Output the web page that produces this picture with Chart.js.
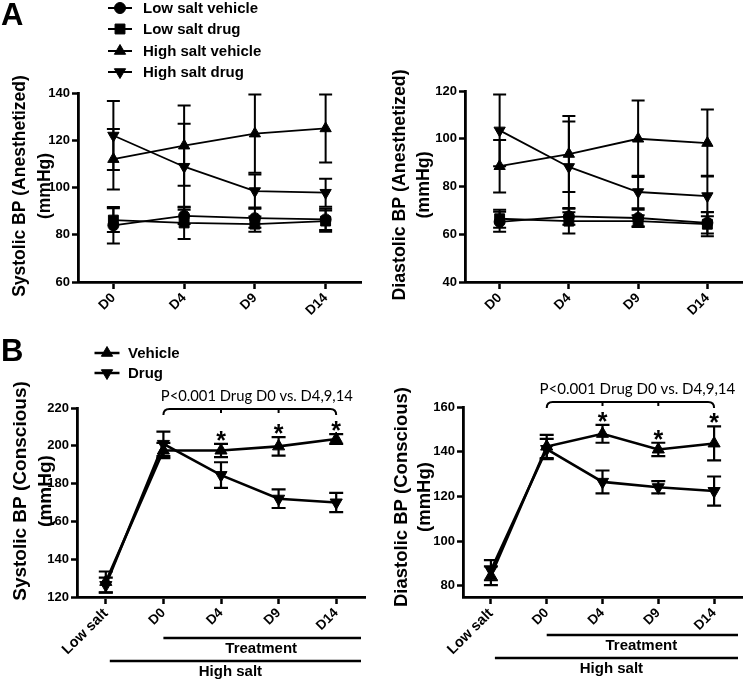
<!DOCTYPE html>
<html><head><meta charset="utf-8">
<script src="https://cdn.jsdelivr.net/npm/chart.js@4.4.1/dist/chart.umd.min.js"></script>
<style>
html,body{margin:0;padding:0;background:#fff;}
#wrap{position:relative;width:750px;height:680px;background:#fff;}
canvas{position:absolute;left:0;top:0;}
</style></head><body>
<div id="wrap">
<canvas id="cA1" width="750" height="680"></canvas>
<canvas id="cA2" width="750" height="680"></canvas>
<canvas id="cB1" width="750" height="680"></canvas>
<canvas id="cB2" width="750" height="680"></canvas>
</div>
<script>
// ---------- DATA ----------
const daysA = ['D0', 'D4', 'D9', 'D14'];
const daysB = ['Low salt', 'D0', 'D4', 'D9', 'D14'];
const seriesNamesA = ['Low salt vehicle', 'Low salt drug', 'High salt vehicle', 'High salt drug'];
const seriesNamesB = ['Vehicle', 'Drug'];

// y tick labels per panel
const yTicksA1 = [60, 80, 100, 120, 140];
const yTicksA2 = [40, 60, 80, 100, 120];
const yTicksB1 = [120, 140, 160, 180, 200, 220];
const yTicksB2 = [80, 100, 120, 140, 160];

// Panel A, systolic (anesthetized)
const sysA_lsVeh     = [84.0, 88.0, 87.0, 86.5];
const sysA_lsVehErr  = [7.7, 3.5, 4.0, 4.5];
const sysA_lsDrug    = [86.2, 85.0, 84.5, 85.8];
const sysA_lsDrugErr = [5.0, 6.8, 3.2, 4.5];
const sysA_hsVeh     = [112.0, 117.7, 122.8, 125.0];
const sysA_hsVehErr  = [12.8, 17.0, 16.6, 14.4];
const sysA_hsDrug    = [122.0, 108.8, 98.5, 97.8];
const sysA_hsDrugErr = [14.6, 18.2, 7.0, 5.9];

// Panel A, diastolic (anesthetized)
const diaA_lsVeh     = [65.2, 67.5, 66.8, 64.8];
const diaA_lsVehErr  = [4.2, 3.5, 3.5, 4.5];
const diaA_lsDrug    = [66.5, 65.5, 65.5, 64.2];
const diaA_lsDrugErr = [3.8, 5.2, 2.5, 5.0];
const diaA_hsVeh     = [88.5, 93.6, 100.0, 98.2];
const diaA_hsVehErr  = [11.0, 15.9, 16.0, 14.0];
const diaA_hsDrug    = [103.5, 88.2, 77.7, 76.0];
const diaA_hsDrugErr = [15.0, 19.0, 6.8, 8.5];

// Panel B, systolic (conscious)
const sysB_veh     = [128.0, 197.5, 197.5, 199.7, 203.6];
const sysB_vehErr  = [5.5, 4.0, 3.5, 4.9, 2.6];
const sysB_drug    = [126.3, 201.0, 184.5, 172.0, 170.0];
const sysB_drugErr = [4.0, 6.5, 6.8, 4.9, 5.1];

// Panel B, diastolic (conscious)
const diaB_veh     = [84.5, 142.3, 148.0, 141.0, 143.7];
const diaB_vehErr  = [4.2, 5.2, 4.0, 3.0, 7.6];
const diaB_drug    = [87.0, 141.2, 126.5, 124.1, 122.4];
const diaB_drugErr = [4.5, 4.5, 5.1, 2.7, 6.5];

// significance marks (vehicle vs drug) for B
const sigB = [false, false, true, true, true];
const pText = 'P<0.001 Drug D0 vs. D4,9,14';

// ---------- DRAWING ----------
const FONT = "'Liberation Sans', Arial, Helvetica, sans-serif";
const STY = {
  circle: {style: 'circle', rot: 0, r: 5.5},
  square: {style: 'rect', rot: 0, r: 7},
  up:     {style: 'triangle', rot: 0, r: 6.5},
  down:   {style: 'triangle', rot: 180, r: 6.5},
  upB:    {style: 'triangle', rot: 0, r: 7},
  downB:  {style: 'triangle', rot: 180, r: 7}
};

function vText(ctx, lines, cx, cy, gap, size) {
  ctx.save();
  ctx.fillStyle = '#000';
  ctx.font = 'bold ' + size + 'px ' + FONT;
  ctx.textAlign = 'center';
  ctx.textBaseline = 'middle';
  lines.forEach((t, i) => {
    ctx.save();
    ctx.translate(cx + i * gap, cy);
    ctx.rotate(-Math.PI / 2);
    ctx.fillText(t, 0, 0);
    ctx.restore();
  });
  ctx.restore();
}

function legendItem(ctx, cx, cy, half, sty, text, tx, size, lw) {
  ctx.save();
  ctx.strokeStyle = '#000'; ctx.fillStyle = '#000';
  ctx.lineWidth = lw;
  ctx.beginPath(); ctx.moveTo(cx - half, cy); ctx.lineTo(cx + half, cy); ctx.stroke();
  ctx.lineWidth = 1;
  Chart.helpers.drawPoint(ctx, {pointStyle: sty.style, rotation: sty.rot, radius: sty.r, borderWidth: 1}, cx, cy);
  ctx.font = 'bold ' + size + 'px ' + FONT;
  ctx.textAlign = 'left'; ctx.textBaseline = 'middle';
  ctx.fillText(text, tx, cy + 1);
  ctx.restore();
}

function build(id, o) {
  const YW = 78, XH = 60;
  const errPlugin = {
    id: 'err_' + id,
    beforeDatasetsDraw(chart) {
      const ctx = chart.ctx, x = chart.scales.x, y = chart.scales.y;
      chart.data.datasets.forEach(ds => {
        ctx.save();
        ctx.strokeStyle = '#000';
        ctx.lineWidth = o.errW;
        ds.data.forEach((v, i) => {
          const e = ds.errors[i];
          const px = x.getPixelForValue(i);
          const t = y.getPixelForValue(v + e), b = y.getPixelForValue(v - e);
          ctx.beginPath();
          ctx.moveTo(px, t); ctx.lineTo(px, b);
          ctx.moveTo(px - o.capW, t); ctx.lineTo(px + o.capW, t);
          ctx.moveTo(px - o.capW, b); ctx.lineTo(px + o.capW, b);
          ctx.stroke();
        });
        ctx.restore();
      });
    }
  };
  const annPlugin = {
    id: 'ann_' + id,
    afterDraw(chart) { o.extra(chart, chart.ctx); }
  };
  return new Chart(document.getElementById(id), {
    type: 'line',
    data: {
      labels: o.labels,
      datasets: o.series.map(s => ({
        data: s.data, errors: s.err,
        borderColor: '#000', borderWidth: o.lineW,
        pointStyle: s.sty.style, pointRotation: s.sty.rot, pointRadius: s.sty.r,
        pointBackgroundColor: '#000', pointBorderColor: '#000', pointBorderWidth: 1,
        tension: 0, fill: false, clip: false
      }))
    },
    options: {
      responsive: false, animation: false, devicePixelRatio: 1, events: [],
      layout: {padding: {left: o.area.l - YW, right: 750 - o.area.r, top: o.area.t, bottom: 680 - o.area.b - XH}},
      plugins: {legend: {display: false}, tooltip: {enabled: false}},
      scales: {
        x: {
          type: 'category', offset: true,
          grid: {display: true, drawOnChartArea: false, drawTicks: true, tickLength: 7, tickWidth: 2.5, tickColor: '#000', offset: false},
          border: {display: true, color: '#000', width: 2.8},
          ticks: {
            color: '#000',
            font: c => ({family: FONT, weight: 'bold', size: (o.labels[c.index] === 'Low salt') ? 14.5 : 13.5}),
            maxRotation: 45, minRotation: 45, padding: 1, autoSkip: false
          },
          afterFit: s => { s.height = XH; }
        },
        y: {
          min: o.yMin, max: o.yMax,
          grid: {display: true, drawOnChartArea: false, drawTicks: true, tickLength: 6, tickWidth: 2.5, tickColor: '#000'},
          border: {display: true, color: '#000', width: 2.8},
          ticks: {color: '#000', font: {family: FONT, weight: 'bold', size: 13}, padding: 2},
          afterBuildTicks: s => { s.ticks = o.yTicks.map(v => ({value: v})); },
          afterFit: s => { s.width = YW; }
        }
      }
    },
    plugins: [errPlugin, annPlugin]
  });
}

function drawBracketAndStars(chart, ctx, o) {
  const x = chart.scales.x, y = chart.scales.y;
  const xs = [1, 2, 3, 4].map(i => x.getPixelForValue(i));
  const by = o.bracketY;
  ctx.save();
  ctx.strokeStyle = '#000'; ctx.lineWidth = 2;
  ctx.beginPath();
  ctx.moveTo(xs[0], by + 6);
  ctx.quadraticCurveTo(xs[0], by, xs[0] + 6, by);
  ctx.lineTo(xs[3] - 6, by);
  ctx.quadraticCurveTo(xs[3], by, xs[3], by + 6);
  ctx.moveTo(xs[1], by); ctx.lineTo(xs[1], by + 4);
  ctx.moveTo(xs[2], by); ctx.lineTo(xs[2], by + 4);
  ctx.stroke();
  // p text
  ctx.fillStyle = '#000';
  const fam = "Lato, 'Open Sans', sans-serif";
  ctx.font = '16px ' + fam;
  const w = ctx.measureText(pText).width;
  const fs = 16 * o.pWidth / w;
  ctx.font = fs.toFixed(2) + 'px ' + fam;
  ctx.textAlign = 'center'; ctx.textBaseline = 'middle';
  ctx.fillText(pText, (xs[0] + xs[3]) / 2 + 7, by - 13);
  // stars
  ctx.font = 'bold 25px ' + FONT;
  ctx.textBaseline = 'alphabetic';
  o.veh.forEach((v, i) => {
    if (!sigB[i]) return;
    const top = y.getPixelForValue(v + o.vehErr[i]);
    const cy = top - 9;
    ctx.fillText('*', x.getPixelForValue(i), cy + 14);
  });
  // treatment / high salt lines
  ctx.lineWidth = 2.5;
  ctx.beginPath();
  ctx.moveTo(xs[0], o.treatY); ctx.lineTo(chart.chartArea.right - 4, o.treatY);
  const ls = x.getPixelForValue(0) + 4;
  ctx.moveTo(ls, o.hsY); ctx.lineTo(chart.chartArea.right - 4, o.hsY);
  ctx.stroke();
  ctx.font = 'bold 15px ' + FONT;
  ctx.textBaseline = 'middle';
  ctx.fillText('Treatment', (xs[0] + chart.chartArea.right) / 2 - 3, o.treatY + 11);
  ctx.fillText('High salt', (ls + chart.chartArea.right) / 2 - 7, o.hsY + 11);
  ctx.restore();
}

// A-left
build('cA1', {
  labels: daysA, yMin: 60, yMax: 140, yTicks: yTicksA1,
  area: {l: 78, r: 361, t: 93, b: 282},
  lineW: 1.8, errW: 2, capW: 6.5,
  series: [
    {data: sysA_lsVeh, err: sysA_lsVehErr, sty: STY.circle},
    {data: sysA_lsDrug, err: sysA_lsDrugErr, sty: STY.square},
    {data: sysA_hsVeh, err: sysA_hsVehErr, sty: STY.up},
    {data: sysA_hsDrug, err: sysA_hsDrugErr, sty: STY.down}
  ],
  extra(chart, ctx) {
    vText(ctx, ['Systolic BP (Anesthetized)', '(mmHg)'], 20, 186, 25, 17.5);
    ctx.save(); ctx.fillStyle = '#000'; ctx.font = 'bold 31px ' + FONT;
    ctx.textAlign = 'left'; ctx.textBaseline = 'alphabetic';
    ctx.fillText('A', 1, 25); ctx.restore();
    const stys = [STY.circle, STY.square, STY.up, STY.down];
    const rows = [8, 29, 51, 72];
    seriesNamesA.forEach((n, i) => legendItem(ctx, 120, rows[i], 12, stys[i], n, 143, 15, 2));
  }
});

// A-right
build('cA2', {
  labels: daysA, yMin: 40, yMax: 120, yTicks: yTicksA2,
  area: {l: 465, r: 748, t: 91, b: 282},
  lineW: 1.8, errW: 2, capW: 6.5,
  series: [
    {data: diaA_lsVeh, err: diaA_lsVehErr, sty: STY.circle},
    {data: diaA_lsDrug, err: diaA_lsDrugErr, sty: STY.square},
    {data: diaA_hsVeh, err: diaA_hsVehErr, sty: STY.up},
    {data: diaA_hsDrug, err: diaA_hsDrugErr, sty: STY.down}
  ],
  extra(chart, ctx) {
    vText(ctx, ['Diastolic BP (Anesthetized)', '(mmHg)'], 400, 185, 24, 17.8);
  }
});

// B-left
build('cB1', {
  labels: daysB, yMin: 120, yMax: 220, yTicks: yTicksB1,
  area: {l: 77, r: 365, t: 408, b: 597},
  lineW: 2.6, errW: 2.2, capW: 7,
  series: [
    {data: sysB_veh, err: sysB_vehErr, sty: STY.upB},
    {data: sysB_drug, err: sysB_drugErr, sty: STY.downB}
  ],
  extra(chart, ctx) {
    vText(ctx, ['Systolic BP (Conscious)', '(mmHg)'], 21, 491, 25, 19);
    ctx.save(); ctx.fillStyle = '#000'; ctx.font = 'bold 31px ' + FONT;
    ctx.textAlign = 'left'; ctx.textBaseline = 'alphabetic';
    ctx.fillText('B', 1, 361); ctx.restore();
    legendItem(ctx, 107, 353, 12.5, STY.up, seriesNamesB[0], 128, 15, 2.5);
    legendItem(ctx, 107, 373, 12.5, STY.down, seriesNamesB[1], 128, 15, 2.5);
    drawBracketAndStars(chart, ctx, {bracketY: 409, pWidth: 192, veh: sysB_veh, vehErr: sysB_vehErr, treatY: 638, hsY: 661});
  }
});

// B-right
build('cB2', {
  labels: daysB, yMin: 75, yMax: 160, yTicks: yTicksB2,
  area: {l: 463, r: 745, t: 407, b: 597},
  lineW: 2.6, errW: 2.2, capW: 7,
  series: [
    {data: diaB_veh, err: diaB_vehErr, sty: STY.upB},
    {data: diaB_drug, err: diaB_drugErr, sty: STY.downB}
  ],
  extra(chart, ctx) {
    vText(ctx, ['Diastolic BP (Conscious)', '(mmHg)'], 402, 497, 23, 18.5);
    drawBracketAndStars(chart, ctx, {bracketY: 402, pWidth: 196, veh: diaB_veh, vehErr: diaB_vehErr, treatY: 635, hsY: 658});
  }
});
</script>
</body></html>
